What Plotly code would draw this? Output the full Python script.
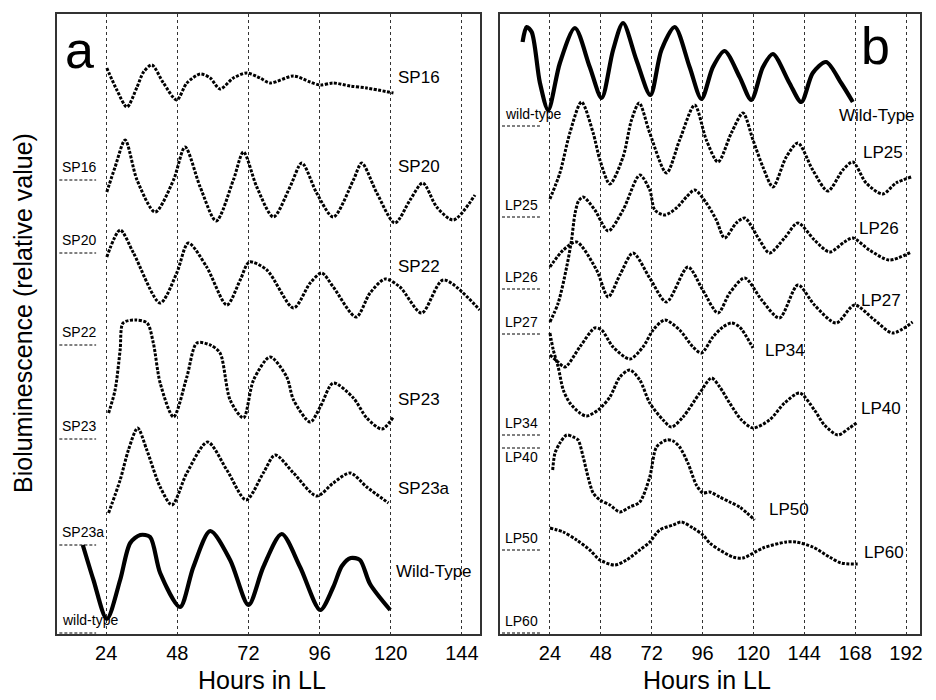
import plotly.graph_objects as go

# ---- panel a: short-period mutants (hours in LL, relative value) ----
sp16_h = [24.2, 27.6, 31.0, 34.4, 36.6, 39.4, 43.3, 47.8, 51.2, 55.7, 59.1, 62.4, 66.9, 71.4, 75.9, 79.3, 87.2, 92.8, 96.2, 100.6, 106.3, 111.9, 120.9]
sp16_v = [566, 544, 527, 547, 562, 569, 551, 534, 551, 560, 556, 545, 556, 561, 556, 551, 558, 552, 549, 551, 548, 546, 541]

sp20_h = [24.2, 27.0, 30.4, 34.4, 40.5, 46.7, 50.6, 55.7, 61.1, 66.9, 70.3, 74.8, 80.4, 86.0, 90.0, 95.0, 100.6, 107.4, 110.2, 115.3, 121.4, 126.5, 130.8, 135.5, 141.1, 148.4]
sp20_v = [442, 467, 494, 454, 422, 454, 487, 447, 413, 454, 482, 447, 417, 447, 471, 441, 417, 454, 471, 441, 411, 434, 451, 427, 414, 439]

sp22_h = [24.2, 28.7, 33.2, 42.2, 47.8, 51.7, 57.9, 64.7, 69.2, 72.3, 78.2, 87.2, 92.8, 96.7, 100.6, 108.3, 113.0, 118.1, 123.1, 130.4, 137.7, 150.0]
sp22_v = [377, 404, 381, 331, 361, 391, 367, 329, 354, 372, 364, 326, 351, 361, 347, 317, 341, 355, 347, 321, 354, 324]

sp23_h = [24.8, 27.0, 28.7, 29.7, 33.8, 37.8, 39.9, 42.2, 46.7, 51.2, 54.6, 59.1, 62.4, 65.8, 70.3, 73.7, 79.3, 84.9, 87.2, 92.8, 96.2, 100.6, 107.4, 111.9, 117.0, 120.9]
sp23_v = [221, 244, 284, 311, 314, 311, 291, 251, 217, 257, 291, 289, 281, 234, 216, 254, 277, 257, 234, 212, 227, 251, 236, 216, 205, 217]

sp23a_h = [24.8, 28.7, 31.5, 34.6, 37.7, 42.2, 46.2, 51.2, 58.2, 64.7, 71.2, 77.0, 81.0, 87.2, 95.0, 100.6, 106.3, 111.9, 119.2]
sp23a_v = [121, 154, 184, 206, 184, 147, 129, 161, 192, 164, 134, 161, 179, 161, 138, 151, 161, 147, 131]

wta_h = [16.1, 19.7, 24.2, 28.7, 32.1, 35.5, 38.8, 42.2, 48.9, 53.4, 59.1, 65.8, 72.0, 77.0, 83.2, 89.4, 96.2, 100.6, 103.5, 106.5, 109.6, 113.0, 119.8]
wta_v = [89, 54, 15, 54, 91, 99, 97, 61, 27, 67, 103, 74, 29, 67, 100, 67, 24, 47, 68, 76, 74, 50, 24]

# ---- panel b: long-period mutants ----
wtb_h = [11.1, 13.0, 15.4, 19.3, 23.2, 28.7, 35.8, 42.8, 48.4, 53.8, 58.5, 64.8, 71.4, 76.6, 82.9, 89.9, 95.5, 100.9, 106.4, 113.5, 119.0, 124.5, 129.2, 137.0, 142.6, 148.0, 154.3, 161.4, 166.9]
wtb_v = [592, 607, 602, 551, 524, 571, 606, 567, 536, 584, 611, 574, 539, 584, 607, 567, 535, 567, 583, 557, 534, 567, 580, 551, 532, 561, 572, 551, 532]

lp25_h = [24.0, 28.7, 33.4, 38.9, 44.4, 47.6, 52.3, 58.5, 62.5, 66.1, 71.1, 79.0, 85.2, 92.3, 97.8, 103.3, 109.6, 115.1, 119.8, 124.5, 129.2, 135.5, 141.0, 148.0, 155.1, 162.2, 166.9, 173.2, 181.0, 187.3, 194.4]
lp25_v = [435, 461, 501, 532, 501, 474, 450, 477, 514, 531, 501, 461, 494, 529, 494, 472, 501, 521, 494, 467, 447, 477, 491, 464, 443, 464, 472, 451, 440, 451, 457]

lp26_h = [24.0, 27.9, 31.9, 34.2, 35.8, 37.5, 39.7, 45.2, 51.5, 58.5, 66.4, 71.1, 73.5, 78.2, 83.7, 88.4, 92.3, 97.8, 102.5, 106.4, 111.9, 115.9, 122.9, 127.6, 134.7, 141.0, 148.8, 155.9, 162.9, 166.9, 174.7, 184.2, 194.4]
lp26_v = [312, 331, 367, 394, 420, 433, 437, 424, 403, 424, 459, 444, 424, 419, 426, 437, 444, 431, 414, 396, 411, 416, 394, 381, 396, 411, 394, 382, 392, 396, 384, 374, 382]

lp27_h = [24.0, 30.3, 36.6, 46.0, 51.5, 57.0, 63.2, 71.1, 79.0, 89.1, 96.1, 103.3, 108.8, 115.9, 123.9, 132.3, 141.0, 148.8, 159.0, 167.7, 177.1, 185.7, 195.1]
lp27_v = [367, 384, 392, 364, 337, 359, 381, 356, 332, 367, 344, 321, 341, 356, 334, 316, 349, 329, 311, 329, 314, 301, 312]

lp34_h = [24.0, 27.8, 31.1, 38.1, 45.2, 48.4, 53.8, 61.7, 67.9, 72.7, 78.2, 85.2, 91.5, 95.5, 100.9, 105.6, 109.6, 113.5, 119.8]
lp34_v = [279, 272, 267, 287, 306, 304, 287, 275, 287, 304, 314, 304, 287, 281, 297, 307, 311, 307, 286]

lp40_h = [24.0, 25.6, 27.9, 30.3, 33.4, 38.1, 41.3, 46.8, 52.3, 57.0, 61.7, 66.4, 71.1, 77.4, 81.3, 86.8, 94.7, 100.2, 104.1, 108.8, 114.4, 119.8, 127.6, 134.7, 141.8, 148.8, 153.5, 159.8, 165.3, 169.2]
lp40_v = [301, 284, 267, 244, 231, 221, 218, 224, 237, 257, 264, 254, 231, 214, 207, 217, 241, 256, 247, 231, 214, 206, 214, 231, 241, 224, 209, 199, 206, 212]

lp50_h = [25.3, 26.4, 28.7, 31.9, 35.0, 37.3, 39.7, 42.0, 44.4, 47.6, 52.3, 57.0, 61.7, 66.4, 71.1, 74.3, 79.0, 82.1, 85.2, 89.1, 93.1, 96.2, 99.4, 104.1, 108.8, 113.5, 120.6]
lp50_v = [164, 181, 191, 199, 197, 194, 177, 157, 141, 134, 129, 122, 127, 132, 157, 187, 194, 193, 187, 171, 149, 141, 142, 137, 132, 127, 114]

lp60_h = [24.0, 30.3, 36.6, 42.8, 47.6, 54.6, 60.1, 66.4, 71.1, 75.8, 82.1, 86.0, 91.5, 96.2, 99.4, 104.1, 110.3, 115.1, 124.5, 135.5, 140.2, 148.0, 155.9, 161.4, 169.2]
lp60_v = [106, 102, 94, 84, 74, 69, 74, 84, 92, 104, 109, 112, 106, 99, 91, 84, 77, 76, 86, 92, 92, 87, 77, 71, 70]

# baseline (zero) level of each trace, shown by the short dashed marks on the left
a_names = ["SP16", "SP20", "SP22", "SP23", "SP23a", "wild-type"]
a_baseline = [454, 381, 289, 195, 89, 1]
b_names = ["wild-type", "LP25", "LP26", "LP27", "LP34", "LP40", "LP50", "LP60"]
b_baseline = [508, 417, 345, 300, 199, 186, 84, 1]

a_ticks = [24, 48, 72, 96, 120, 144]
b_ticks = [24, 48, 72, 96, 120, 144, 168, 192]

FONT = "Liberation Sans, Arial, Helvetica, sans-serif"
MUTANT = dict(color="black", width=3, dash="3px,1.5px", shape="spline", smoothing=0.8)
WILD = dict(color="black", width=4.2, shape="spline", smoothing=0.8)

fig = go.Figure()

panel_a = [(sp16_h, sp16_v), (sp20_h, sp20_v), (sp22_h, sp22_v),
           (sp23_h, sp23_v), (sp23a_h, sp23a_v)]
for h, v in panel_a:
    fig.add_trace(go.Scatter(x=h, y=v, mode="lines", xaxis="x", yaxis="y", line=MUTANT))
fig.add_trace(go.Scatter(x=wta_h, y=wta_v, mode="lines", xaxis="x", yaxis="y", line=WILD))

panel_b = [(lp25_h, lp25_v), (lp26_h, lp26_v), (lp27_h, lp27_v), (lp34_h, lp34_v),
           (lp40_h, lp40_v), (lp50_h, lp50_v), (lp60_h, lp60_v)]
for h, v in panel_b:
    fig.add_trace(go.Scatter(x=h, y=v, mode="lines", xaxis="x2", yaxis="y2", line=MUTANT))
fig.add_trace(go.Scatter(x=wtb_h, y=wtb_v, mode="lines", xaxis="x2", yaxis="y2", line=WILD))

shapes = []
annotations = []

# left baseline marks and their labels
a_label_y = [b + 13 for b in a_baseline]
for name, base, ly in zip(a_names, a_baseline, a_label_y):
    shapes.append(dict(type="line", xref="x", yref="y", x0=8.2, x1=20.6, y0=base, y1=base,
                       line=dict(color="black", width=1, dash="3px,2px")))
    annotations.append(dict(xref="x", yref="y", x=8.4, y=ly, text=name, showarrow=False,
                            xanchor="left", yanchor="middle", font=dict(size=14, family=FONT)))

b_label_y = [b + 12 for b in b_baseline]
b_label_y[5] = b_baseline[5] - 9   # LP40 label sits under its mark
for name, base, ly in zip(b_names, b_baseline, b_label_y):
    shapes.append(dict(type="line", xref="x2", yref="y2", x0=1.4, x1=19.3, y0=base, y1=base,
                       line=dict(color="black", width=1, dash="3px,2px")))
    annotations.append(dict(xref="x2", yref="y2", x=1.8, y=ly, text=name, showarrow=False,
                            xanchor="left", yanchor="middle", font=dict(size=14, family=FONT)))

# right-hand trace labels
a_right = [("SP16", 121.8, 557), ("SP20", 121.8, 468), ("SP22", 121.8, 368),
           ("SP23", 121.8, 235), ("SP23a", 121.6, 146), ("Wild-Type", 121.2, 63)]
for text, x, y in a_right:
    annotations.append(dict(xref="x", yref="y", x=x, y=y, text=text, showarrow=False,
                            xanchor="left", yanchor="middle", font=dict(size=17, family=FONT)))
b_right = [("Wild-Type", 159.3, 519), ("LP25", 170.8, 482), ("LP26", 169.1, 406),
           ("LP27", 170.0, 334), ("LP34", 124.5, 284), ("LP40", 170.0, 226),
           ("LP50", 126.4, 125), ("LP60", 171.3, 82)]
for text, x, y in b_right:
    annotations.append(dict(xref="x2", yref="y2", x=x, y=y, text=text, showarrow=False,
                            xanchor="left", yanchor="middle", font=dict(size=17, family=FONT)))

# panel letters and axis titles
annotations += [
    dict(xref="paper", yref="paper", x=(79.7 - 57) / 863, y=(700 - 66 - 50) / 620, text="a",
         showarrow=False, xanchor="center", yanchor="middle", font=dict(size=52, family=FONT)),
    dict(xref="paper", yref="paper", x=(875 - 57) / 863, y=(700 - 66 - 46) / 620, text="b",
         showarrow=False, xanchor="center", yanchor="middle", font=dict(size=52, family=FONT)),
    dict(xref="paper", yref="paper", x=(262 - 57) / 863, y=-(680 - 634) / 620, text="Hours in LL",
         showarrow=False, xanchor="center", yanchor="middle", font=dict(size=25, family=FONT)),
    dict(xref="paper", yref="paper", x=(707 - 57) / 863, y=-(680 - 634) / 620, text="Hours in LL",
         showarrow=False, xanchor="center", yanchor="middle", font=dict(size=25, family=FONT)),
    dict(xref="paper", yref="paper", x=-(57 - 23) / 863, y=(634 - 313) / 620,
         text="Bioluminescence (relative value)", textangle=-90,
         showarrow=False, xanchor="center", yanchor="middle", font=dict(size=25, family=FONT)),
]

xstyle = dict(showgrid=True, gridcolor="#333", gridwidth=1, griddash="dot", zeroline=False,
              showline=True, linecolor="#333", linewidth=1.5, mirror=True, ticks="",
              tickfont=dict(size=20, family=FONT, color="black"))
ystyle = dict(range=[0, 620], showgrid=False, zeroline=False, showticklabels=False, ticks="",
              showline=True, linecolor="#333", linewidth=1.5, mirror=True)

fig.update_layout(
    width=936, height=700,
    margin=dict(l=57, r=16, t=14, b=66),
    plot_bgcolor="white", paper_bgcolor="white",
    showlegend=False,
    font=dict(family=FONT, color="black"),
    xaxis=dict(domain=[0, 423 / 863], range=[7.4, 150.1], tickvals=a_ticks, anchor="y", **xstyle),
    yaxis=dict(domain=[0, 1], anchor="x", **ystyle),
    xaxis2=dict(domain=[443 / 863, 1], range=[0.45, 198.6], tickvals=b_ticks, anchor="y2", **xstyle),
    yaxis2=dict(domain=[0, 1], anchor="x2", **ystyle),
    shapes=shapes,
    annotations=annotations,
)

# the page body has a default 8px margin; remove it so the 936x700 figure fills the window
fig.write_html("out.html", config={"displayModeBar": False},
               post_script="document.body.style.margin='0px';")
